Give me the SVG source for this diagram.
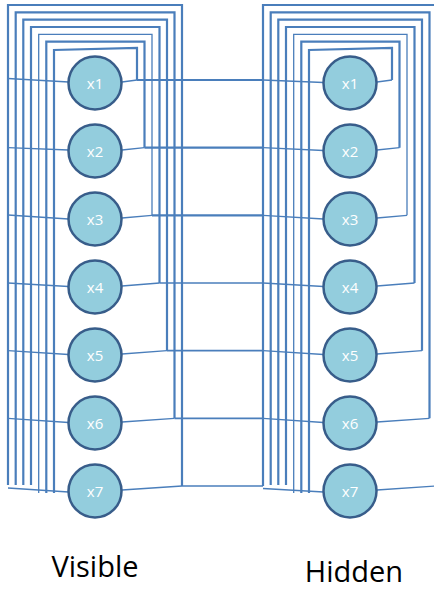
<svg xmlns="http://www.w3.org/2000/svg" width="434" height="590" viewBox="0 0 434 590">
<style>
.w{fill:none;stroke:#4A7EBB;stroke-width:2.2}
.t{fill:none;stroke:#4A7EBB;stroke-width:1.3}
.m{fill:none;stroke:#4A7EBB;stroke-width:1.7}
.n circle{fill:#93CDDD;stroke:#385D8A;stroke-width:2.5}
.n text{fill:#FFFFFF;font-family:"Open Sans","Noto Sans",sans-serif;font-size:15px;text-anchor:middle}
.lbl{fill:#000;font-family:"Open Sans","Noto Sans",sans-serif;font-size:29px;text-anchor:middle}
</style>
<rect width="434" height="590" fill="#FFFFFF"/>
<g id="connectors">
<path class="w" d="M54,493 V50 L137,48 V80"/>
<path class="w" d="M46.3,493 V41.7 H144.5 V147.7"/>
<path class="t" d="M38.7,493 V34.3 H152 V215.3"/>
<path class="w" d="M31,485 V27 H159.5 V283"/>
<path class="w" d="M23.3,485 V19.7 H167 V350.7"/>
<path class="w" d="M15.7,485 V12.3 H174.5 V418.3"/>
<path class="w" d="M8,485 V5 H182 V486"/>
<path class="w" d="M309,493 V50 L392,48 V80"/>
<path class="w" d="M301.3,493 V41.7 H399.5 V147.7"/>
<path class="t" d="M293.7,493 V34.3 H407 V215.3"/>
<path class="w" d="M286,485 V27 H414.5 V283"/>
<path class="w" d="M278.3,485 V19.7 H422 V350.7"/>
<path class="w" d="M270.7,485 V12.3 H429.5 V418.3"/>
<path class="w" d="M263,486 V5 H437 V486"/>
<path class="w" d="M137,80 H263"/>
<path class="w" d="M144.5,147.7 H263"/>
<path class="w" d="M152,215.3 H263"/>
<path class="m" d="M159.5,283 H263"/>
<path class="m" d="M167,350.7 H263"/>
<path class="m" d="M174.5,418.3 H263"/>
<path class="m" d="M182,486 H263"/>
<path class="t" d="M8,78.5 L68.5,82"/>
<path class="t" d="M8,147.7 L68.5,150"/>
<path class="t" d="M8,215 L68.5,219"/>
<path class="t" d="M8,283 L68.5,286.5"/>
<path class="t" d="M8,350.7 L68.5,354.5"/>
<path class="t" d="M8,418.3 L68.5,422.5"/>
<path class="t" d="M8,488 L68.5,492"/>
<path class="t" d="M122,82 L137,80"/>
<path class="t" d="M122,150 L144.5,147.7"/>
<path class="t" d="M122,218 L152,215.3"/>
<path class="t" d="M122,286 L159.5,283"/>
<path class="t" d="M122,354 L167,350.7"/>
<path class="t" d="M122,422 L174.5,418.3"/>
<path class="t" d="M122,490 L182,486"/>
<path class="t" d="M263,80 L323.5,82.5"/>
<path class="t" d="M263,147.7 L323.5,150.5"/>
<path class="t" d="M263,215.3 L323.5,219"/>
<path class="t" d="M263,283 L323.5,286.5"/>
<path class="t" d="M263,350.7 L323.5,354.5"/>
<path class="t" d="M263,418.3 L323.5,422.5"/>
<path class="t" d="M263,488.5 L323.5,492"/>
<path class="t" d="M377,82 L392,80"/>
<path class="t" d="M377,150 L399.5,147.7"/>
<path class="t" d="M377,218 L407,215.3"/>
<path class="t" d="M377,286 L414.5,283"/>
<path class="t" d="M377,354 L422,350.7"/>
<path class="t" d="M377,422 L429.5,418.3"/>
<path class="t" d="M377,490 L437,486"/>
</g>
<g id="v1" class="n"><circle cx="95" cy="83" r="26.5"/><text x="95" y="88.5">x1</text></g>
<g id="v2" class="n"><circle cx="95" cy="151" r="26.5"/><text x="95" y="156.5">x2</text></g>
<g id="v3" class="n"><circle cx="95" cy="219" r="26.5"/><text x="95" y="224.5">x3</text></g>
<g id="v4" class="n"><circle cx="95" cy="287" r="26.5"/><text x="95" y="292.5">x4</text></g>
<g id="v5" class="n"><circle cx="95" cy="355" r="26.5"/><text x="95" y="360.5">x5</text></g>
<g id="v6" class="n"><circle cx="95" cy="423" r="26.5"/><text x="95" y="428.5">x6</text></g>
<g id="v7" class="n"><circle cx="95" cy="491" r="26.5"/><text x="95" y="496.5">x7</text></g>
<g id="h1" class="n"><circle cx="350" cy="83" r="26.5"/><text x="350" y="88.5">x1</text></g>
<g id="h2" class="n"><circle cx="350" cy="151" r="26.5"/><text x="350" y="156.5">x2</text></g>
<g id="h3" class="n"><circle cx="350" cy="219" r="26.5"/><text x="350" y="224.5">x3</text></g>
<g id="h4" class="n"><circle cx="350" cy="287" r="26.5"/><text x="350" y="292.5">x4</text></g>
<g id="h5" class="n"><circle cx="350" cy="355" r="26.5"/><text x="350" y="360.5">x5</text></g>
<g id="h6" class="n"><circle cx="350" cy="423" r="26.5"/><text x="350" y="428.5">x6</text></g>
<g id="h7" class="n"><circle cx="350" cy="491" r="26.5"/><text x="350" y="496.5">x7</text></g>
<g id="labels">
<text class="lbl" x="95" y="577">Visible</text>
<text class="lbl" x="354" y="582">Hidden</text>
</g>
</svg>
